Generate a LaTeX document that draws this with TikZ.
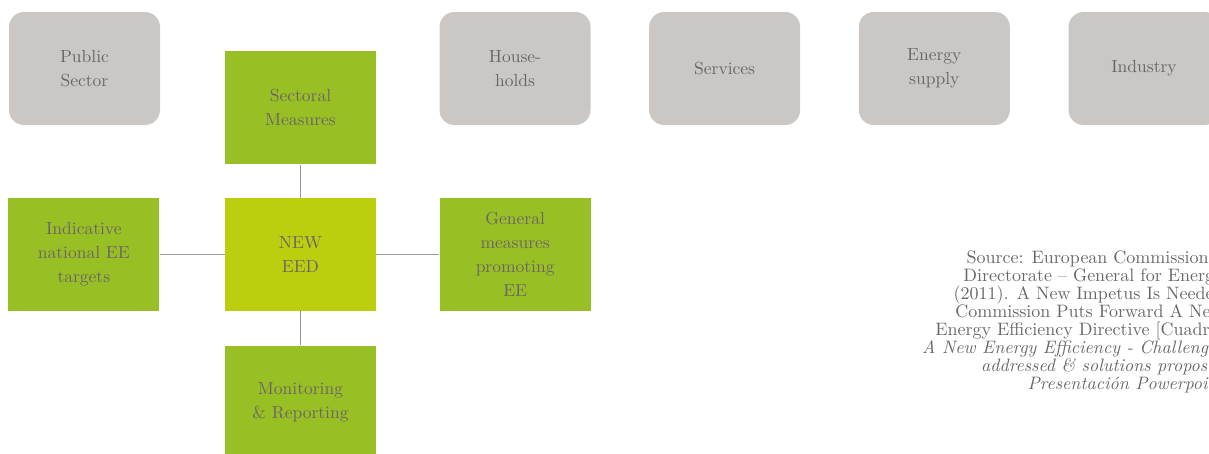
\documentclass[tikz,border=0pt]{standalone}
\usepackage{tikz}
\usetikzlibrary{positioning}
\usepackage{xcolor}

\definecolor{sectgray}{HTML}{CBC7C4}
\definecolor{measgreen}{HTML}{98BF24}
\definecolor{eedgreen}{HTML}{BCCF0E}
\definecolor{txtgray}{HTML}{6A6668}
\definecolor{linkgray}{HTML}{9A9A9A}

\begin{document}
\begin{tikzpicture}[
  x=0.6pt, y=-0.6pt,
  every node/.style={font=\fontsize{10.5}{14.4}\selectfont, text=txtgray},
  box/.style={minimum width=90.6pt, minimum height=67.8pt,
              inner sep=2pt, align=center},
  sector/.style={box, fill=sectgray, rounded corners=9pt},
  meas/.style={box, fill=measgreen},
  link/.style={draw=linkgray, line width=0.9pt}
]
%% Frame
\path[use as bounding box, clip] (0,0) rectangle (1209,453);

%% Sectors along the top
\node[sector] (pub) at (84.5,68.5)          {Public\\Sector};
\node[sector] (hh)  at (515,68.5)           {House-\\holds};
\node[sector, right=34.8pt of hh]  (serv)   {Services};
\node[sector, right=34.8pt of serv] (ensup) {Energy\\supply};
\node[sector, right=34.8pt of ensup] (indu) {Industry};

%% Directive and its measures
\node[box, fill=eedgreen] (eed) at (300.5,254.5) {NEW\\EED};
\node[meas, above=19.8pt of eed] (sect) {Sectoral\\Measures};
\node[meas, below=20.4pt of eed] (mon)  {Monitoring\\\& Reporting};
\node[meas, left=39pt of eed]    (targ) {Indicative\\national EE\\targets};
\node[meas, right=37.8pt of eed] (gen)  {General\\measures\\promoting\\EE};

%% Links
\draw[link] (eed) -- (sect);
\draw[link] (eed) -- (mon);
\draw[link] (eed) -- (targ);
\draw[link] (eed) -- (gen);

%% Source note
\node[anchor=north east, align=right, inner sep=0pt,
      font=\fontsize{10.8}{10.8}\selectfont] (src) at (1224,250)
  {Source: European Commission --\\
   Directorate -- General for Energy\\
   (2011). A New Impetus Is Needed\\
   Commission Puts Forward A New\\
   Energy Efficiency Directive [Cuadro]\\
   \itshape A New Energy Efficiency - Challenges\\
   \itshape addressed \& solutions proposed\\
   \itshape Presentación Powerpoint};
\end{tikzpicture}
\end{document}
